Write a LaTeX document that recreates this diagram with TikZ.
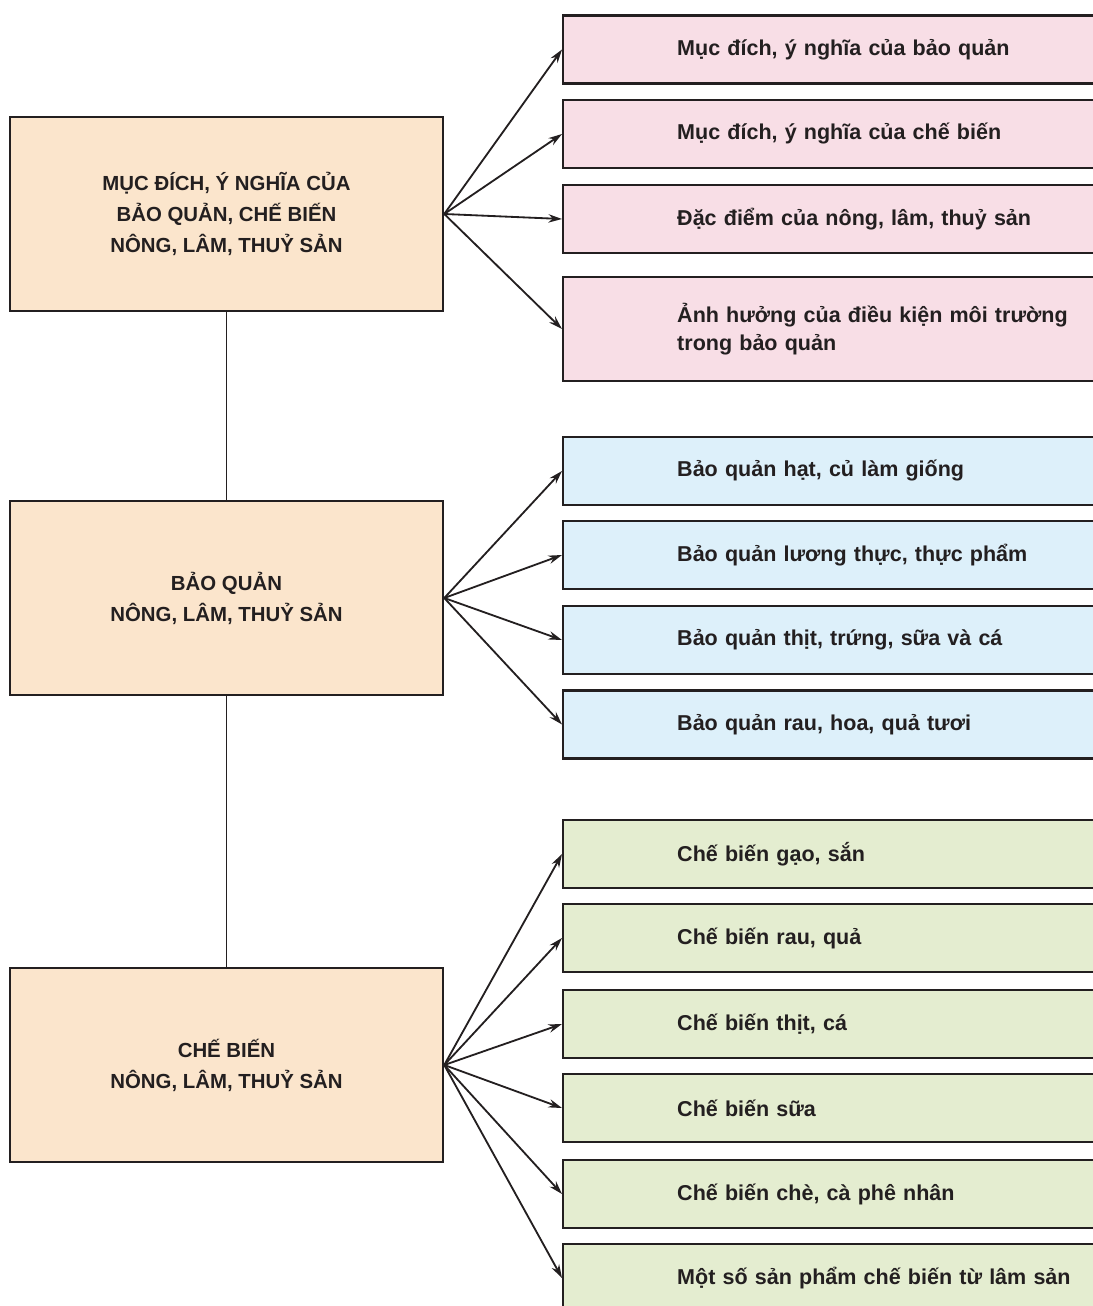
\documentclass[tikz,border=0pt]{standalone}
\usepackage{fontspec}
\setmainfont{Liberation Sans}
\usepackage{tikz}
\usetikzlibrary{arrows.meta,positioning}

\definecolor{peach}{HTML}{FBE5CC}
\definecolor{pinkbg}{HTML}{F8DEE6}
\definecolor{bluebg}{HTML}{DDF0FA}
\definecolor{greenbg}{HTML}{E4EDD0}
\definecolor{ink}{HTML}{231F20}

\begin{document}
\begin{tikzpicture}[
  x=0.025cm, y=-0.025cm,
  >={Stealth[length=3.4mm,width=2.1mm]},
  main/.style={rectangle, draw=ink, line width=1.7pt, fill=peach,
    minimum width=10.825cm, minimum height=4.85cm, align=center,
    text=ink, font=\fontsize{14.5}{22}\selectfont\bfseries},
  item/.style={rectangle, draw=ink, line width=1.7pt, anchor=west,
    minimum height=1.7cm, inner xsep=2.85cm, text width=10cm, align=left,
    text=ink, font=\fontsize{15.3}{19.5}\selectfont\bfseries},
  link/.style={->, draw=ink, line width=1.3pt},
]
\useasboundingbox (0,0) rectangle (1092,1306);

% left column
\node[main] (goal) at (226.5,214) {MỤC ĐÍCH, Ý NGHĨA CỦA\\BẢO QUẢN, CHẾ BIẾN\\NÔNG, LÂM, THUỶ SẢN};
\node[main] (keep) at (226.5,598) {BẢO QUẢN\\NÔNG, LÂM, THUỶ SẢN};
\node[main] (proc) at (226.5,1065) {CHẾ BIẾN\\NÔNG, LÂM, THUỶ SẢN};
\draw[ink, line width=1.4pt] (goal.south) -- (keep.north);
\draw[ink, line width=1.4pt] (keep.south) -- (proc.north);

% muc dich, y nghia
\node[item, fill=pinkbg] (g1) at (562,49.5) {Mục đích, ý nghĩa của bảo quản};
\node[item, fill=pinkbg] (g2) at (562,134) {Mục đích, ý nghĩa của chế biến};
\node[item, fill=pinkbg] (g3) at (562,219) {Đặc điểm của nông, lâm, thuỷ sản};
\node[item, fill=pinkbg, minimum height=2.6cm] (g4) at (562,329)
  {Ảnh hưởng của điều kiện môi trường\\trong bảo quản};

% bao quan
\node[item, fill=bluebg] (k1) at (562,471) {Bảo quản hạt, củ làm giống};
\node[item, fill=bluebg] (k2) at (562,555) {Bảo quản lương thực, thực phẩm};
\node[item, fill=bluebg] (k3) at (562,640) {Bảo quản thịt, trứng, sữa và cá};
\node[item, fill=bluebg] (k4) at (562,724.5) {Bảo quản rau, hoa, quả tươi};

% che bien
\node[item, fill=greenbg] (p1) at (562,854) {Chế biến gạo, sắn};
\node[item, fill=greenbg] (p2) at (562,938) {Chế biến rau, quả};
\node[item, fill=greenbg] (p3) at (562,1024) {Chế biến thịt, cá};
\node[item, fill=greenbg] (p4) at (562,1108) {Chế biến sữa};
\node[item, fill=greenbg] (p5) at (562,1194) {Chế biến chè, cà phê nhân};
\node[item, fill=greenbg] (p6) at (562,1278) {Một số sản phẩm chế biến từ lâm sản};

\draw[link] (goal.east) -- (g1.west);
\draw[link] (goal.east) -- (g2.west);
\draw[link] (goal.east) -- (g3.west);
\draw[link] (goal.east) -- (g4.west);

\draw[link] (keep.east) -- (k1.west);
\draw[link] (keep.east) -- (k2.west);
\draw[link] (keep.east) -- (k3.west);
\draw[link] (keep.east) -- (k4.west);

\draw[link] (proc.east) -- (p1.west);
\draw[link] (proc.east) -- (p2.west);
\draw[link] (proc.east) -- (p3.west);
\draw[link] (proc.east) -- (p4.west);
\draw[link] (proc.east) -- (p5.west);
\draw[link] (proc.east) -- (p6.west);
\end{tikzpicture}
\end{document}
